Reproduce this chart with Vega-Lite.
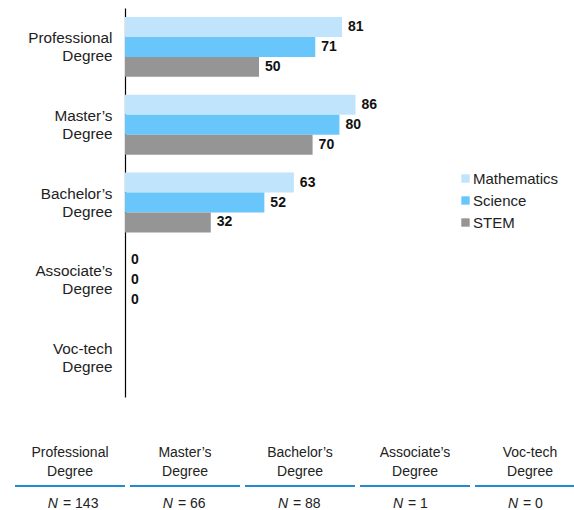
{
  "$schema": "https://vega.github.io/schema/vega-lite/v6.json",
  "background": "white",
  "autosize": {"type": "none"},
  "padding": {"left": 125, "top": 8, "right": 0, "bottom": 0},
  "width": 449,
  "height": 502,
  "config": {"view": {"stroke": null}, "font": "Liberation Sans"},
  "resolve": {"scale": {"x": "independent", "y": "independent"}},
  "layer": [
    {
      "data": {"values": [
        {"degree": "Professional Degree", "subject": "Mathematics", "value": 81},
        {"degree": "Professional Degree", "subject": "Science", "value": 71},
        {"degree": "Professional Degree", "subject": "STEM", "value": 50},
        {"degree": "Master’s Degree", "subject": "Mathematics", "value": 86},
        {"degree": "Master’s Degree", "subject": "Science", "value": 80},
        {"degree": "Master’s Degree", "subject": "STEM", "value": 70},
        {"degree": "Bachelor’s Degree", "subject": "Mathematics", "value": 63},
        {"degree": "Bachelor’s Degree", "subject": "Science", "value": 52},
        {"degree": "Bachelor’s Degree", "subject": "STEM", "value": 32},
        {"degree": "Associate’s Degree", "subject": "Mathematics", "value": 0},
        {"degree": "Associate’s Degree", "subject": "Science", "value": 0},
        {"degree": "Associate’s Degree", "subject": "STEM", "value": 0}
      ]},
      "encoding": {
        "y": {
          "field": "degree", "type": "nominal", "title": null,
          "scale": {"domain": ["Professional Degree", "Master’s Degree", "Bachelor’s Degree", "Associate’s Degree", "Voc-tech Degree"], "range": [0, 389], "paddingInner": 0.23, "paddingOuter": 0.115},
          "axis": {"labelExpr": "split(datum.value, ' ')", "labelFontSize": 15.3, "labelLineHeight": 18, "labelOffset": -9, "labelColor": "#222222", "labelPadding": 13, "ticks": false, "domainColor": "#000000", "domainWidth": 1.2, "grid": false}
        },
        "yOffset": {"field": "subject", "type": "nominal", "scale": {"domain": ["Mathematics", "Science", "STEM"]}},
        "x": {"field": "value", "type": "quantitative", "scale": {"domain": [0, 100], "range": [0, 268]}, "axis": null}
      },
      "layer": [
        {
          "mark": {"type": "bar"},
          "encoding": {
            "color": {
              "field": "subject", "type": "nominal",
              "scale": {"domain": ["Mathematics", "Science", "STEM"], "range": ["#bfe4fb", "#69c6fb", "#959596"]},
              "legend": {"title": null, "orient": "none", "legendX": 333, "legendY": 163, "symbolType": "square", "symbolSize": 70, "symbolStrokeWidth": 0, "labelFontSize": 15, "labelColor": "#222222", "labelOffset": 0, "rowPadding": 6}
            }
          }
        },
        {
          "mark": {"type": "text", "align": "left", "baseline": "middle", "dx": 6, "fontWeight": "bold", "fontSize": 14, "color": "#111111"},
          "encoding": {"text": {"field": "value", "type": "quantitative"}}
        }
      ]
    },
    {
      "data": {"values": [
        {"degree": "Professional Degree", "n_text": "= 143"},
        {"degree": "Master’s Degree", "n_text": "= 66"},
        {"degree": "Bachelor’s Degree", "n_text": "= 88"},
        {"degree": "Associate’s Degree", "n_text": "= 1"},
        {"degree": "Voc-tech Degree", "n_text": "= 0"}
      ]},
      "encoding": {
        "x": {"field": "degree", "type": "nominal", "title": null, "axis": null,
          "scale": {"domain": ["Professional Degree", "Master’s Degree", "Bachelor’s Degree", "Associate’s Degree", "Voc-tech Degree"], "range": [-110, 460], "paddingInner": 0.0435, "paddingOuter": 0}}
      },
      "layer": [
        {
          "mark": {"type": "text", "fontSize": 14, "lineHeight": 19, "lineBreak": " ", "baseline": "middle", "dy": -9, "color": "#222222"},
          "encoding": {
            "y": {"datum": "label", "type": "ordinal", "axis": null, "title": null, "scale": {"type": "point", "domain": ["label", "line", "n"], "range": [454, 496], "padding": 0}},
            "text": {"field": "degree", "type": "nominal"}
          }
        },
        {
          "mark": {"type": "tick", "orient": "horizontal", "size": 110, "thickness": 2, "color": "#1f8bd0", "opacity": 1, "yOffset": 3},
          "encoding": {"y": {"datum": "line", "type": "ordinal"}}
        },
        {
          "mark": {"type": "text", "fontSize": 14, "baseline": "middle", "align": "right", "dx": -12, "dy": 0, "fontStyle": "italic", "color": "#222222"},
          "encoding": {"y": {"datum": "n", "type": "ordinal"}, "text": {"value": "N"}}
        },
        {
          "mark": {"type": "text", "fontSize": 14, "baseline": "middle", "align": "left", "dx": -7, "dy": 0, "color": "#222222"},
          "encoding": {"y": {"datum": "n", "type": "ordinal"}, "text": {"field": "n_text", "type": "nominal"}}
        }
      ]
    }
  ]
}
